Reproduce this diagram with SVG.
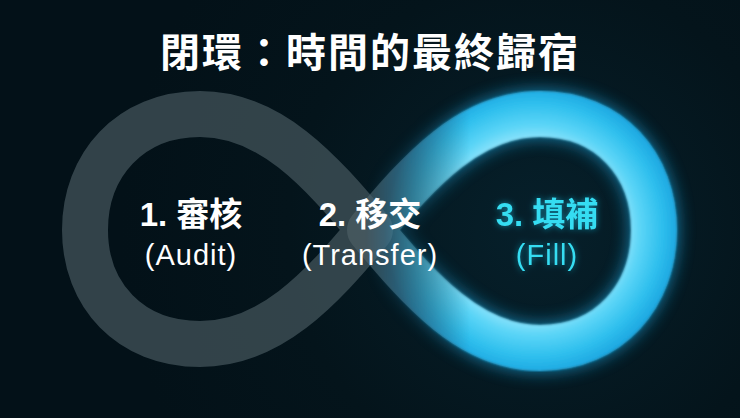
<svg xmlns="http://www.w3.org/2000/svg" width="740" height="418" viewBox="0 0 740 418">
  <defs>
    <radialGradient id="bg" cx="540" cy="230" r="420" gradientUnits="userSpaceOnUse">
      <stop offset="0" stop-color="#06202b"/>
      <stop offset="0.6" stop-color="#04141b"/>
      <stop offset="1" stop-color="#031118"/>
    </radialGradient>
    <radialGradient id="cyanBand" cx="535" cy="230" r="150" gradientUnits="userSpaceOnUse">
      <stop offset="0.6" stop-color="#8fe4fb"/>
      <stop offset="0.7" stop-color="#5cd5f7"/>
      <stop offset="0.84" stop-color="#30c0ee"/>
      <stop offset="0.96" stop-color="#1ca6e0"/>
      <stop offset="1" stop-color="#1894d4"/>
    </radialGradient>
    <linearGradient id="fadeGrad" x1="365" y1="0" x2="470" y2="0" gradientUnits="userSpaceOnUse">
      <stop offset="0" stop-color="#000"/>
      <stop offset="1" stop-color="#fff"/>
    </linearGradient>
    <mask id="fadeMask" maskUnits="userSpaceOnUse" x="0" y="0" width="740" height="418">
      <rect x="0" y="0" width="740" height="418" fill="url(#fadeGrad)"/>
    </mask>
    <filter id="glow" x="-30%" y="-30%" width="160%" height="160%">
      <feGaussianBlur stdDeviation="9"/>
    </filter>
    <filter id="soft" x="-10%" y="-10%" width="120%" height="120%">
      <feGaussianBlur stdDeviation="1.2"/>
    </filter>
    <filter id="textGlow" x="-20%" y="-40%" width="140%" height="180%">
      <feGaussianBlur in="SourceAlpha" stdDeviation="3" result="b"/>
      <feFlood flood-color="#1fc8f0" flood-opacity="0.6"/>
      <feComposite in2="b" operator="in" result="g"/>
      <feMerge><feMergeNode in="g"/><feMergeNode in="SourceGraphic"/></feMerge>
    </filter>
    <path id="leftLobe" d="M370,230 C320,170 270,114 200,114 C130,114 85,165 85,230 C85,295 130,344 200,344 C270,344 320,290 370,230 Z"/>
    <path id="rightLobe" d="M370,230 C420,170 470,114 540,114 C610,114 654,165 654,230 C654,295 610,348 540,348 C470,348 420,290 370,230 Z"/>
  </defs>
  <style>
    .band { fill: none; stroke-width: 46; stroke-linejoin: round; }
    .grey { stroke: #4f6168; opacity: 0.62; }
    .lbl1 { font-family: "Liberation Sans", "Noto Sans CJK TC", sans-serif; font-weight: bold; font-size: 33px; text-anchor: middle; }
    .lbl2 { font-family: "Liberation Sans", "Noto Sans CJK TC", sans-serif; font-size: 29px; letter-spacing: 1px; text-anchor: middle; }
    .white { fill: #ffffff; }
    .cyan { fill: #36ddf2; }
  </style>
  <rect x="0" y="0" width="740" height="418" fill="url(#bg)"/>

  <g id="connectors">
    <use href="#leftLobe" class="band grey"/>
    <use href="#rightLobe" class="band grey"/>
    <g mask="url(#fadeMask)">
      <use href="#rightLobe" class="band" stroke="#1fb4f0" stroke-width="58" opacity="0.7" filter="url(#glow)"/>
      <use href="#rightLobe" class="band" stroke="url(#cyanBand)" filter="url(#soft)"/>
    </g>
  </g>

  <g id="title">
    <text x="370" y="67" font-family="'Noto Sans CJK TC', 'Noto Sans CJK SC', sans-serif" font-weight="bold" font-size="40" letter-spacing="2" text-anchor="middle" fill="#ffffff">閉環：時間的最終歸宿</text>
  </g>

  <g id="node-audit">
    <text x="191" y="226" class="lbl1 white">1. 審核</text>
    <text x="191" y="265" class="lbl2 white">(Audit)</text>
  </g>
  <g id="node-transfer">
    <text x="370" y="226" class="lbl1 white">2. 移交</text>
    <text x="370" y="265" class="lbl2 white">(Transfer)</text>
  </g>
  <g id="node-fill" filter="url(#textGlow)">
    <text x="547" y="226" class="lbl1 cyan">3. 填補</text>
    <text x="547" y="265" class="lbl2 cyan">(Fill)</text>
  </g>
</svg>
